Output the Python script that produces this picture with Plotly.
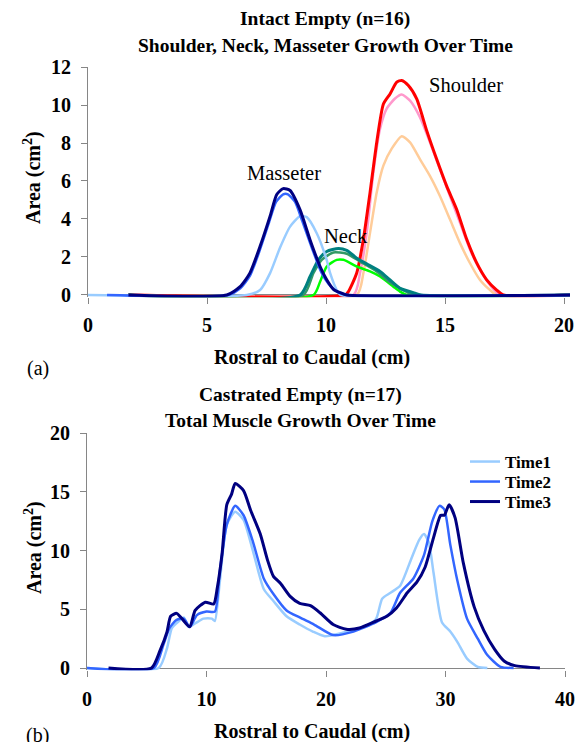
import plotly.graph_objects as go

W, H = 580, 742

# ---------------- Top chart data (Intact Empty) ----------------
# Shoulder
shoulder_t1_x = [1.7, 11.29, 11.57, 11.85, 12.13, 12.41, 12.76, 13.18, 13.53, 13.95, 14.37, 14.79, 15.21, 15.63, 16.05, 16.47, 16.89, 17.17, 20.25]
shoulder_t1_y = [0, 0, 1.16, 3.28, 5.4, 6.81, 7.7, 8.36, 8.03, 7.14, 6.26, 5.2, 3.97, 2.73, 1.67, 0.79, 0.26, 0, 0]
shoulder_t2_x = [1.7, 11.15, 11.43, 11.71, 11.99, 12.27, 12.55, 12.9, 13.18, 13.53, 13.95, 14.37, 14.79, 15.21, 15.63, 16.05, 16.47, 16.89, 17.31, 20.25]
shoulder_t2_y = [0, 0, 1.16, 3.28, 6.46, 8.75, 9.81, 10.34, 10.55, 10.23, 9.35, 8.03, 6.6, 5.2, 3.8, 2.38, 1.32, 0.53, 0, 0]
shoulder_t3_x = [1.7, 10.8, 10.94, 11.29, 11.57, 11.85, 12.13, 12.41, 12.69, 12.97, 13.18, 13.46, 13.81, 14.23, 14.65, 15.07, 15.49, 15.91, 16.33, 16.75, 17.17, 17.45, 20.25]
shoulder_t3_y = [0, 0, 0.18, 1.16, 2.93, 5.4, 8.03, 10.05, 10.58, 11.2, 11.29, 11.02, 10.32, 8.65, 7.14, 5.73, 4.5, 2.93, 1.69, 0.8, 0.26, 0, 0]
# Neck
neck_t1_x = [1.7, 9.47, 9.75, 10.03, 10.45, 10.73, 11.29, 11.85, 12.27, 12.83, 13.11, 13.39, 20.25]
neck_t1_y = [0, 0, 0.7, 1.5, 1.85, 1.85, 1.5, 1.24, 0.97, 0.44, 0.18, 0, 0]
neck_t2_x = [1.7, 9.05, 9.47, 9.82, 10.31, 10.87, 11.43, 12.13, 12.69, 13.25, 13.67, 20.25]
neck_t2_y = [0, 0, 1.15, 1.85, 2.24, 2.17, 1.76, 1.24, 0.66, 0.26, 0, 0]
neck_t3_x = [1.7, 8.91, 9.33, 9.68, 10.03, 10.52, 10.87, 11.29, 11.71, 12.27, 12.69, 13.11, 13.67, 14.0, 20.25]
neck_t3_y = [0, 0, 0.97, 1.85, 2.29, 2.45, 2.35, 1.94, 1.64, 1.24, 0.79, 0.35, 0.12, 0, 0]
# Masseter
masseter_t1_x = [0, 6.67, 7.23, 7.65, 8.07, 8.49, 8.91, 9.19, 9.61, 10.03, 10.17, 10.45, 10.6, 20.25]
masseter_t1_y = [0, 0, 0.26, 1.15, 2.5, 3.6, 4.15, 4.1, 3.25, 1.83, 1.16, 0.26, 0, 0]
masseter_t2_x = [0.8, 5.9, 6.4, 6.8, 7.2, 7.6, 7.9, 8.2, 8.4, 8.7, 9.0, 9.4, 9.8, 10.1, 10.5, 10.9, 20.25]
masseter_t2_y = [0, 0, 0.35, 1.0, 2.3, 3.8, 4.9, 5.3, 5.3, 4.9, 3.9, 2.5, 1.2, 0.6, 0.15, 0, 0]
masseter_t3_x = [1.7, 5.83, 6.39, 6.8, 7.23, 7.65, 7.93, 8.2, 8.49, 8.91, 9.33, 9.75, 10.03, 10.31, 10.6, 10.87, 20.25]
masseter_t3_y = [0, 0, 0.44, 1.15, 2.56, 4.15, 5.29, 5.6, 5.5, 4.48, 2.9, 1.5, 0.8, 0.3, 0.12, 0, 0]

# ---------------- Bottom chart data (Castrated Empty) ----------------
total_t1_x = [0, 6.0, 6.7, 7.1, 7.7, 8.1, 8.5, 9.05, 9.75, 10.45, 10.7, 11.1, 11.7, 12.4, 13.1, 13.9, 14.8, 15.6, 16.7, 17.8, 18.9, 19.9, 21.4, 23.4, 24.2, 24.7, 25.4, 26.2, 27.1, 27.8, 28.2, 28.6, 29.0, 29.7, 30.4, 31.0, 31.8, 32.7, 33.5]
total_t1_y = [0, 0, 1.7, 3.4, 4.0, 4.3, 3.5, 3.8, 4.2, 4.2, 4.0, 7.2, 12.2, 13.3, 12.6, 9.9, 6.7, 5.7, 4.4, 3.7, 3.1, 2.7, 3.0, 3.6, 4.2, 5.9, 6.4, 7.0, 9.2, 10.9, 11.4, 10.7, 8.1, 3.9, 3.1, 2.2, 0.8, 0.1, 0]
total_t2_x = [0, 5.6, 6.4, 6.9, 7.5, 8.1, 8.6, 9.2, 10.0, 10.7, 11.1, 11.7, 12.4, 13.1, 13.9, 14.8, 15.6, 16.7, 17.8, 19.0, 20.6, 22.3, 24.2, 25.4, 26.2, 27.3, 28.2, 28.9, 29.5, 29.9, 30.4, 31.0, 31.8, 32.7, 33.5, 34.6, 35.7]
total_t2_y = [0, 0, 2.0, 3.4, 4.1, 4.2, 3.5, 4.5, 4.8, 4.8, 8.1, 12.2, 13.8, 13.0, 10.7, 7.6, 6.3, 4.9, 4.3, 3.7, 2.8, 3.1, 3.9, 4.7, 6.4, 7.6, 9.6, 12.5, 13.8, 13.5, 10.5, 7.4, 4.2, 2.5, 1.1, 0.1, 0]
total_t3_x = [1.8, 5.4, 6.1, 6.7, 7.0, 7.5, 7.9, 8.6, 9.05, 9.9, 10.6, 10.9, 11.3, 11.7, 12.1, 12.4, 13.1, 13.7, 14.5, 15.1, 15.6, 16.2, 17.0, 17.8, 18.7, 19.5, 20.6, 21.7, 22.8, 24.2, 25.1, 25.9, 26.8, 27.6, 28.3, 29.0, 29.6, 29.9, 30.3, 30.8, 31.5, 32.4, 33.2, 34.1, 34.9, 35.8, 37.9]
total_t3_y = [0, 0, 1.45, 3.1, 4.4, 4.65, 4.25, 3.5, 4.9, 5.6, 5.45, 6.8, 9.7, 13.9, 14.8, 15.7, 15.1, 13.4, 11.4, 9.2, 7.8, 7.2, 6.1, 5.5, 5.3, 4.7, 3.7, 3.3, 3.4, 4.0, 4.4, 5.1, 6.4, 7.3, 8.6, 11.1, 13.0, 13.0, 13.9, 12.8, 8.9, 5.2, 3.2, 1.6, 0.6, 0.2, 0]

legend_names = ["Time1", "Time2", "Time3"]
top_labels = ["Masseter", "Neck", "Shoulder"]

SERIF = "'Liberation Serif', 'Times New Roman', Times, serif"
AXIS_GRAY = "#868686"

def px(x):
    return x / W

def py(y):
    return 1 - y / H

fig = go.Figure()

top_series = [
    (shoulder_t1_x, shoulder_t1_y, "#FFCC99", 2.5),
    (shoulder_t2_x, shoulder_t2_y, "#FF99CC", 2.5),
    (shoulder_t3_x, shoulder_t3_y, "#FF0000", 3),
    (neck_t1_x, neck_t1_y, "#00FF00", 2.5),
    (neck_t2_x, neck_t2_y, "#339966", 2.5),
    (neck_t3_x, neck_t3_y, "#008080", 3),
    (masseter_t1_x, masseter_t1_y, "#99CCFF", 2.5),
    (masseter_t2_x, masseter_t2_y, "#3366FF", 2.5),
    (masseter_t3_x, masseter_t3_y, "#000080", 3),
]
for xs, ys, c, w in top_series:
    fig.add_trace(go.Scatter(x=xs, y=ys, mode="lines",
                             line=dict(color=c, width=w, shape="spline", smoothing=0.6),
                             xaxis="x", yaxis="y", showlegend=False, hoverinfo="skip"))

bottom_series = [
    (total_t1_x, total_t1_y, "#99CCFF", 2.5),
    (total_t2_x, total_t2_y, "#3366FF", 2.5),
    (total_t3_x, total_t3_y, "#000080", 3),
]
legend_ids = ["legend", "legend2", "legend3"]
for (xs, ys, c, w), name, lid in zip(bottom_series, legend_names, legend_ids):
    fig.add_trace(go.Scatter(x=xs, y=ys, mode="lines", name=name, legend=lid,
                             line=dict(color=c, width=w, shape="spline", smoothing=0.6),
                             xaxis="x2", yaxis="y2", showlegend=True))

tickfont = dict(family=SERIF, size=20, color="black", weight="bold")
common_axis = dict(showgrid=False, ticks="outside", tickcolor=AXIS_GRAY, ticklen=6,
                   tickfont=tickfont, automargin=False)
xcommon = dict(showline=False, zeroline=False, **common_axis)
ycommon = dict(showline=True, linecolor=AXIS_GRAY, linewidth=1, zeroline=True,
               zerolinecolor=AXIS_GRAY, zerolinewidth=1, **common_axis)

# small pad below zero so the zero-level lines are not half clipped
top_pad = 0.12
bot_pad = 0.2

def legend_at(ycenter):
    return dict(x=px(465), y=py(ycenter), xanchor="left", yanchor="middle",
                font=dict(family=SERIF, size=17, color="black", weight="bold"),
                bgcolor="rgba(0,0,0,0)", itemwidth=30, borderwidth=0)

fig.update_layout(
    width=W, height=H,
    margin=dict(l=0, r=0, t=0, b=0, autoexpand=False),
    paper_bgcolor="white", plot_bgcolor="white",
    font=dict(family=SERIF),
    xaxis=dict(domain=[px(88), px(570)], range=[0, 20.25], tickvals=[0, 5, 10, 15, 20],
               anchor="y", ticklabelstandoff=4, **xcommon),
    yaxis=dict(domain=[py(295 + top_pad * 18.9), py(67)], range=[-top_pad, 12],
               tickvals=[0, 2, 4, 6, 8, 10, 12], anchor="x", ticklabelstandoff=6, **ycommon),
    xaxis2=dict(domain=[px(87), px(565)], range=[0, 40], tickvals=[0, 10, 20, 30, 40],
                anchor="y2", ticklabelstandoff=5, **xcommon),
    yaxis2=dict(domain=[py(668 + bot_pad * 11.75), py(433)], range=[-bot_pad, 20],
                tickvals=[0, 5, 10, 15, 20], anchor="x2", ticklabelstandoff=6, **ycommon),
    legend=legend_at(462),
    legend2=legend_at(482),
    legend3=legend_at(502),
    showlegend=True,
)

ann = []
def text(x, y, s, size=18, bold=True, angle=0):
    ann.append(dict(x=px(x), y=py(y), xref="paper", yref="paper", text=s, showarrow=False,
                    xanchor="center", yanchor="middle", textangle=angle,
                    font=dict(family=SERIF, size=size, color="black",
                              weight="bold" if bold else "normal")))

text(325, 19, "Intact Empty (n=16)", 19.5)
text(325, 46, "Shoulder, Neck, Masseter Growth Over Time", 19.5)
text(300, 395, "Castrated Empty (n=17)", 19.5)
text(300, 420, "Total Muscle Growth Over Time", 19.5)
text(312, 357, "Rostral to Caudal (cm)", 20)
text(312, 731, "Rostral to Caudal (cm)", 20)
text(33, 178, "Area (cm<sup>2</sup>)", 20, angle=-90)
text(33, 548, "Area (cm<sup>2</sup>)", 20, angle=-90)
text(38, 368, "(a)", 20, bold=False)
text(37, 735, "(b)", 20, bold=False)
text(284, 173, top_labels[0], 20.5, bold=False)
text(346, 236, top_labels[1], 20.5, bold=False)
text(466, 85, top_labels[2], 20.5, bold=False)
fig.update_layout(annotations=ann)

fig.write_html("out.html", config={"displayModeBar": False},
               post_script="document.body.style.margin='0';document.body.style.padding='0';document.body.style.overflow='hidden';")
